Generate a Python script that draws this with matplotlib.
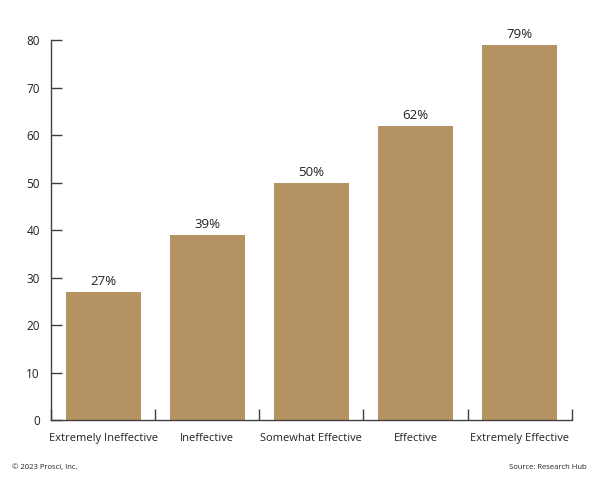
import numpy as np
import matplotlib.pyplot as plt

plt.rcParams['font.family'] = ['Open Sans', 'DejaVu Sans']

# Dados
categorias = ['Extremely Ineffective', 'Ineffective', 'Somewhat Effective',
              'Effective', 'Extremely Effective']
valores = [27, 39, 50, 62, 79]
yticks = [0, 10, 20, 30, 40, 50, 60, 70, 80]

cor_barra = '#B59363'
cor_eixo = '#404040'

fig = plt.figure(figsize=(6, 4.82), dpi=100)
ax = fig.add_axes([0.085, 0.1286, 0.868, 0.7884])

x = np.arange(len(categorias))
bars = ax.bar(x, valores, width=0.72, color=cor_barra, zorder=2)

# rótulos de valor
for b, v in zip(bars, valores):
    ax.text(b.get_x() + b.get_width() / 2, v + 0.7, f'{v}%',
            ha='center', va='bottom', fontsize=9.5, color='#222222')

ax.set_xlim(-0.5, len(categorias) - 0.5)
ax.set_ylim(0, 80)

# eixo y
ax.set_yticks(yticks)
ax.tick_params(axis='y', direction='in', length=8, width=1, color=cor_eixo,
               labelsize=8.5, labelcolor='#222222', pad=8)

# eixo x: marcas nas divisões entre categorias, viradas para cima
ax.set_xticks(np.arange(-0.5, len(categorias) + 0.5, 1), minor=True)
ax.set_xticks(x)
ax.set_xticklabels(categorias)
ax.tick_params(axis='x', which='major', length=0, labelsize=8,
               labelcolor='#222222', pad=9)
ax.tick_params(axis='x', which='minor', direction='in', length=8, width=1,
               color=cor_eixo)

for s in ['top', 'right']:
    ax.spines[s].set_visible(False)
for s in ['left', 'bottom']:
    ax.spines[s].set_color(cor_eixo)
    ax.spines[s].set_linewidth(1)

fig.text(0.02, 0.031, '© 2023 Prosci, Inc.', fontsize=5.5, color='#222222',
         ha='left', va='center')
fig.text(0.978, 0.031, 'Source: Research Hub', fontsize=5.5, color='#222222',
         ha='right', va='center')

fig.savefig('out.png', dpi=100)
